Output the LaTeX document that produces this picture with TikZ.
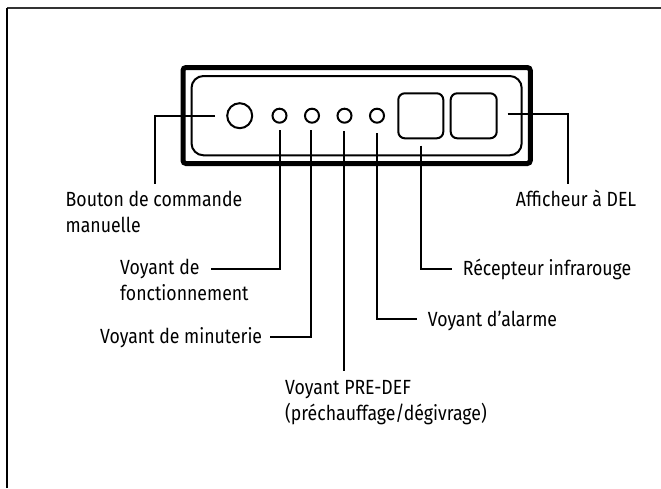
\documentclass[tikz,border=0pt]{standalone}
\usepackage{fontspec}
\setmainfont[FakeStretch=0.862]{Fira Sans}
\tikzset{
  x=1pt,y=-1pt,
  lead/.style={line width=2pt,line join=miter},
  part/.style={draw,line width=2pt,inner sep=0pt,minimum size=14pt,circle},
  bigpart/.style={draw,line width=2pt,inner sep=0pt,minimum size=25pt,circle},
  win/.style={draw,line width=2pt,rounded corners=6.5pt},
  lab/.style={anchor=base west,inner sep=0pt,font=\fontsize{20.5}{26}\selectfont,align=left},
}
\begin{document}
\begin{tikzpicture}
\useasboundingbox (0,0) rectangle (661,488);
\coordinate (fa) at (6.9,488);
\coordinate (fb) at (6.9,7.8);
\coordinate (fc) at (661,7.8);
\draw[line width=2pt,line join=miter,color=black!80] (fb) -- (fc);
\draw[line width=1.8pt] (fa) -- (fb);
% housing
\draw[line width=5pt,rounded corners=3pt] (183,67.5) rectangle (530.3,163.5);
\draw[line width=2pt,rounded corners=12pt] (191.5,76) rectangle (521.7,155.3);
% controls
\node[bigpart] (btn) at (239.7,115.7) {};
\node[part] (l1) at (279.5,115.7) {};
\node[part] (l2) at (312,115.7) {};
\node[part] (l3) at (344.5,115.7) {};
\node[part] (l4) at (377,115.7) {};
\draw[win] (398.3,93.3) rectangle (443.3,138.3);
\draw[win] (450.7,93.3) rectangle (496.7,138.3);
% labels
\node[lab] (t1) at (65.5,232) {Bouton de commande\\manuelle};
\node[lab] (t2) at (120,300.7) {Voyant de\\fonctionnement};
\node[lab] (t3) at (100,343.3) {Voyant de minuterie};
\node[lab] (t4) at (285,420.3) {Voyant PRE-DEF\\(préchauffage/dégivrage)};
\node[lab] (t5) at (427.7,326.7) {Voyant d’alarme};
\node[lab] (t6) at (462.7,275) {Récepteur infrarouge};
\node[lab] (t7) at (515.7,206) {Afficheur à DEL};
% leader coordinates
\coordinate (a1) at (215,115.7);
\coordinate (a2) at (155.3,115.7);
\coordinate (a3) at (155.3,184.3);
\coordinate (b1) at (279.7,130);
\coordinate (b2) at (279.7,268.7);
\coordinate (b3) at (211.3,268.7);
\coordinate (c1) at (311.3,130);
\coordinate (c2) at (311.3,336.7);
\coordinate (c3) at (270,336.7);
\coordinate (d1) at (343.5,131);
\coordinate (d2) at (343.5,371);
\coordinate (e1) at (376.7,133);
\coordinate (e2) at (376.7,318.7);
\coordinate (e3) at (417.3,318.7);
\coordinate (f1) at (421.3,145.7);
\coordinate (f2) at (421.3,268.7);
\coordinate (f3) at (451.7,268.7);
\coordinate (g1) at (507.7,114.3);
\coordinate (g2) at (567.7,114.3);
\coordinate (g3) at (567.7,184.3);
\draw[lead] (a1) -- (a2) -- (a3);
\draw[lead] (b1) -- (b2) -- (b3);
\draw[lead] (c1) -- (c2) -- (c3);
\draw[lead] (d1) -- (d2);
\draw[lead] (e1) -- (e2) -- (e3);
\draw[lead] (f1) -- (f2) -- (f3);
\draw[lead] (g1) -- (g2) -- (g3);
\end{tikzpicture}
\end{document}
